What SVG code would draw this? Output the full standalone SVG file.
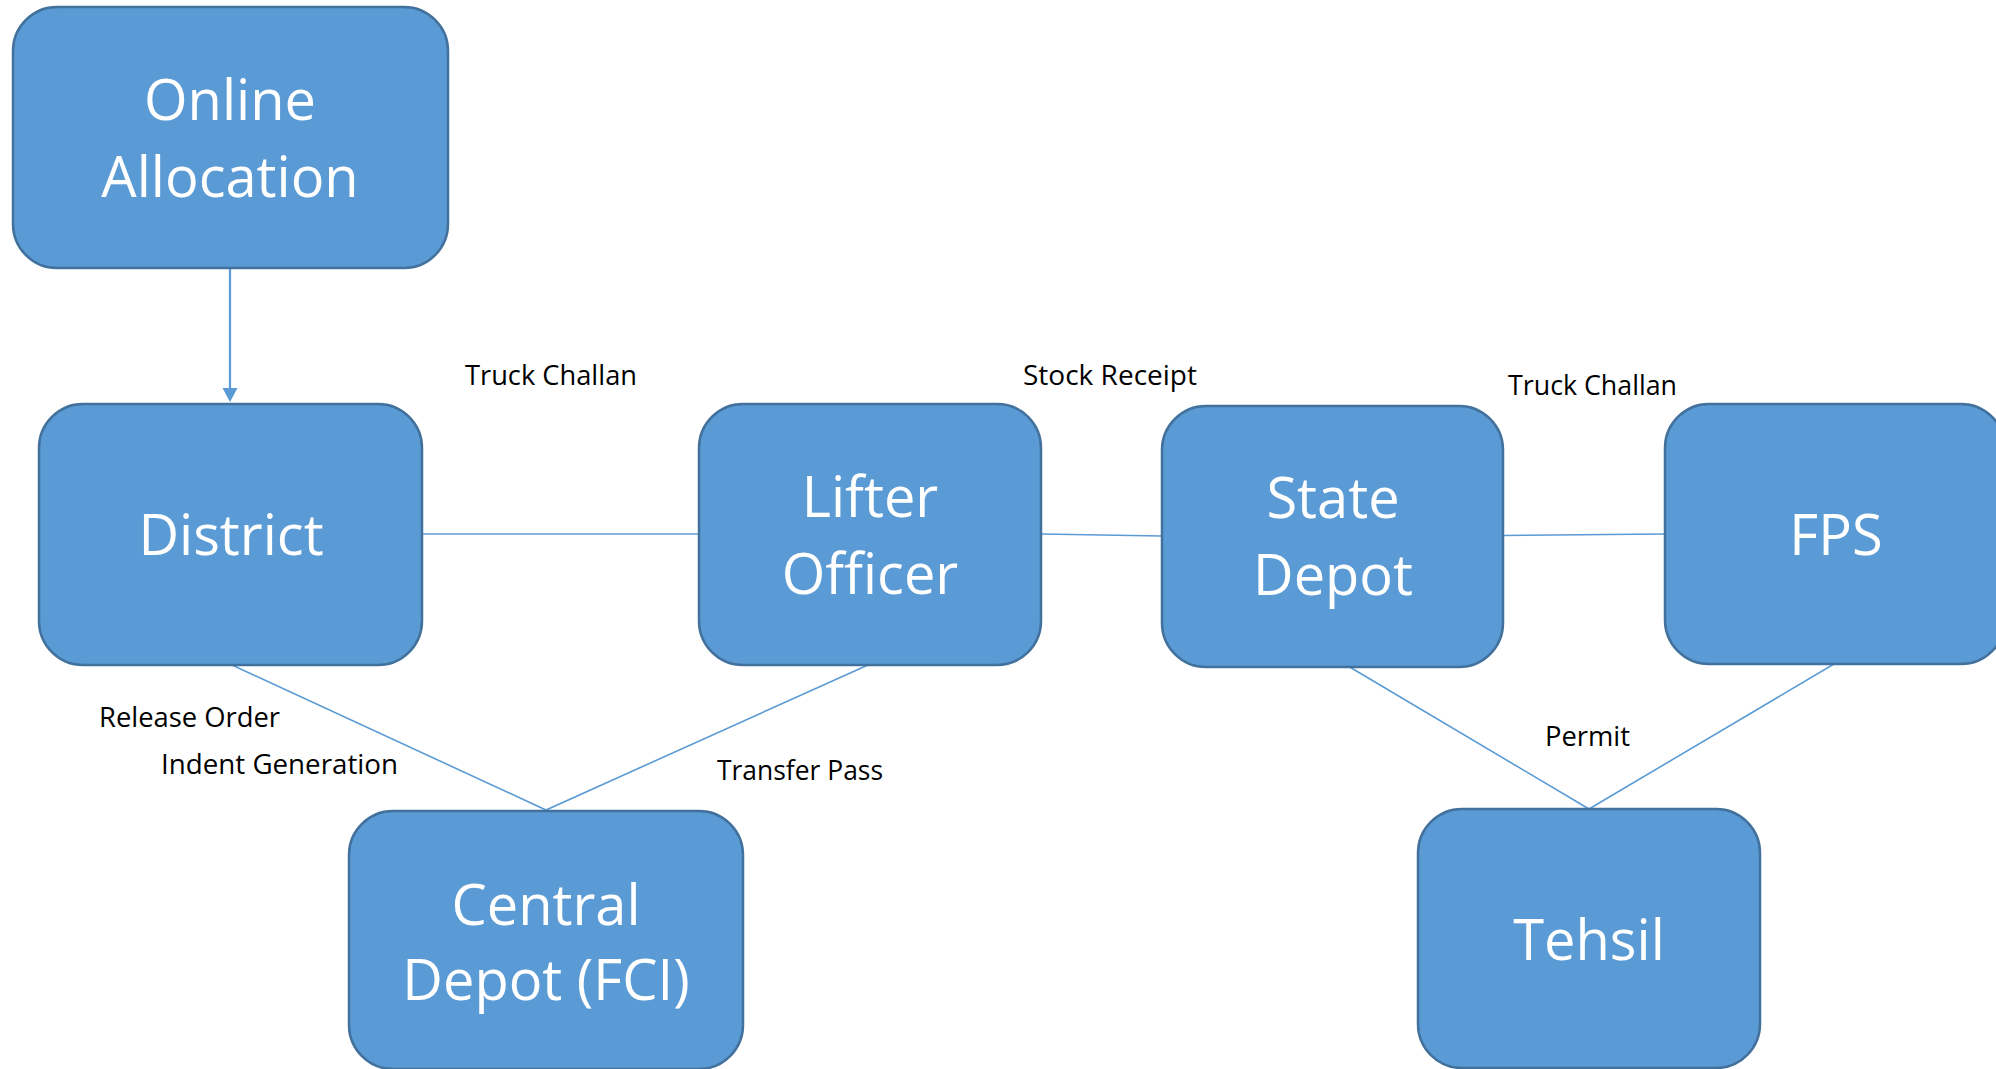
<svg xmlns="http://www.w3.org/2000/svg" width="1996" height="1069" viewBox="0 0 1996 1069">
<style>
.box{fill:#5B9BD5;stroke:#41719C;stroke-width:2.5}
.nt{font-family:"Open Sans","Noto Sans",sans-serif;font-size:56px;fill:#ffffff;text-anchor:middle}
.lbl{font-family:"Open Sans","Noto Sans",sans-serif;font-size:27.5px;fill:#000000}
.con{stroke:#5B9BD5;stroke-width:1.6;fill:none}
</style>
<rect width="1996" height="1069" fill="#ffffff"/>
<g id="connectors">
<line class="con" x1="230" y1="268" x2="230" y2="390" style="stroke-width:2.2"/>
<path d="M222.5,388 L237.5,388 L230,402 z" fill="#5B9BD5"/>
<line class="con" x1="422" y1="534" x2="699" y2="534"/>
<line class="con" x1="1041" y1="534" x2="1162" y2="536"/>
<line class="con" x1="1503" y1="535.5" x2="1665" y2="534"/>
<polyline class="con" points="232,665 546,810 868,665"/>
<polyline class="con" points="1348,666 1589,809 1834,664"/>
</g>
<g id="labels">
<text class="lbl" x="465" y="385" textLength="172" lengthAdjust="spacingAndGlyphs">Truck Challan</text>
<text class="lbl" x="1023" y="385" textLength="174" lengthAdjust="spacingAndGlyphs">Stock Receipt</text>
<text class="lbl" x="1508" y="395" textLength="169" lengthAdjust="spacingAndGlyphs">Truck Challan</text>
<text class="lbl" x="99" y="727" textLength="181" lengthAdjust="spacingAndGlyphs">Release Order</text>
<text class="lbl" x="161" y="774" textLength="237" lengthAdjust="spacingAndGlyphs">Indent Generation</text>
<text class="lbl" x="717" y="780" textLength="166" lengthAdjust="spacingAndGlyphs">Transfer Pass</text>
<text class="lbl" x="1545" y="746" textLength="85" lengthAdjust="spacingAndGlyphs">Permit</text>
</g>
<g id="online-allocation">
<rect class="box" x="13" y="7" width="435" height="261" rx="44"/>
<text class="nt" x="230" y="120">Online</text>
<text class="nt" x="230" y="197">Allocation</text>
</g>
<g id="district">
<rect class="box" x="39" y="404" width="383" height="261" rx="44"/>
<text class="nt" x="231" y="555">District</text>
</g>
<g id="lifter-officer">
<rect class="box" x="699" y="404" width="342" height="261" rx="44"/>
<text class="nt" x="870" y="517">Lifter</text>
<text class="nt" x="870" y="594">Officer</text>
</g>
<g id="state-depot">
<rect class="box" x="1162" y="406" width="341" height="261" rx="44"/>
<text class="nt" x="1333" y="518">State</text>
<text class="nt" x="1333" y="595">Depot</text>
</g>
<g id="fps">
<rect class="box" x="1665" y="404" width="340" height="260" rx="44"/>
<text class="nt" x="1836" y="555">FPS</text>
</g>
<g id="central-depot">
<rect class="box" x="349" y="811" width="394" height="258" rx="44"/>
<text class="nt" x="546" y="925">Central</text>
<text class="nt" x="546" y="1000">Depot (FCI)</text>
</g>
<g id="tehsil">
<rect class="box" x="1418" y="809" width="342" height="259" rx="44"/>
<text class="nt" x="1589" y="960">Tehsil</text>
</g>
</svg>
